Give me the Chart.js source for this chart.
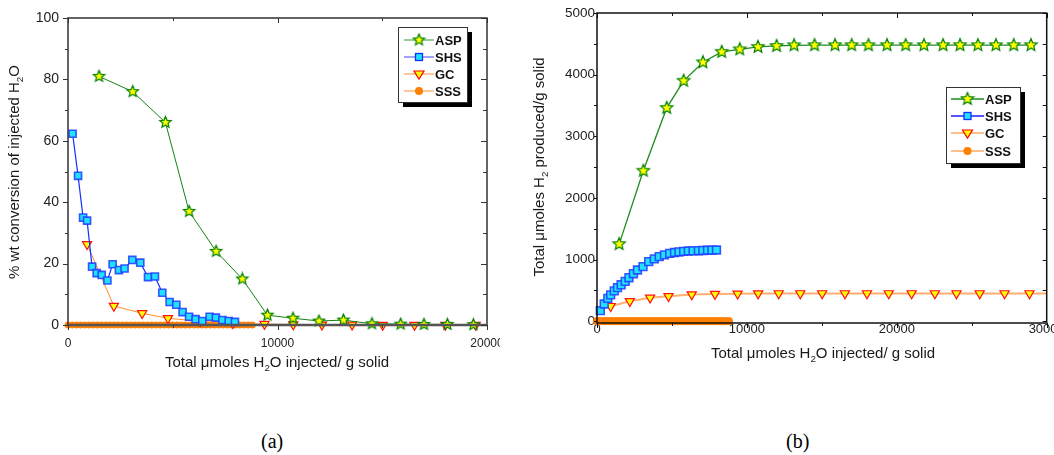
<!DOCTYPE html>
<html>
<head>
<meta charset="utf-8">
<script src="https://cdn.jsdelivr.net/npm/chart.js@4.4.0/dist/chart.umd.min.js"></script>
<style>
body { margin: 0; background: #fff; width: 1054px; height: 455px; position: relative; overflow: hidden; }
#left { position: absolute; left: 0; top: 0; }
#right { position: absolute; left: 500px; top: 0; }
.cap { position: absolute; top: 430px; font: 20px "Liberation Serif", "Times New Roman", serif; color: #000; }
</style>
</head>
<body>
<canvas id="left" width="500" height="400"></canvas>
<canvas id="right" width="554" height="400"></canvas>
<div class="cap" style="left:261px">(a)</div>
<div class="cap" style="left:786px">(b)</div>
<script>
// ---- data ----
const aspX = [1480, 3090, 4650, 5780, 7070, 8320, 9520, 10740, 11980, 13150, 14510, 15880, 16990, 18110, 19350, 20590, 21810, 23090, 24220, 25410, 26610, 27800, 28950];
const aspConv = [81, 76, 66, 37, 24, 15, 3.2, 2.2, 1.3, 1.6, 0.4, 0.3, 0.2, 0.2, 0.1, 0.1, 0, 0, 0, 0, 0, 0, 0];
const aspTotal = [1250, 2440, 3460, 3900, 4200, 4370, 4410, 4450, 4465, 4476, 4478, 4478, 4478, 4478, 4478, 4478, 4478, 4478, 4478, 4478, 4478, 4478, 4478];

const shsX = [220, 480, 720, 910, 1150, 1370, 1610, 1880, 2130, 2430, 2700, 3070, 3450, 3820, 4150, 4500, 4850, 5170, 5470, 5780, 6090, 6410, 6760, 7060, 7370, 7670, 7970];
const shsConv = [62.3, 48.6, 35, 34, 19, 16.9, 16.3, 14.5, 19.8, 17.9, 18.4, 21.2, 20.3, 15.6, 15.8, 10.5, 7.5, 6.6, 4.2, 2.7, 1.9, 1.3, 2.7, 2.4, 1.6, 1.3, 1.0];
const shsTotal = [170, 278, 370, 427, 492, 543, 590, 645, 705, 770, 830, 885, 965, 1010, 1046, 1076, 1099, 1114, 1123, 1132, 1138, 1140, 1143, 1147, 1150, 1153, 1155];

const gcX = [910, 2190, 3540, 4770, 6320, 7870, 9380, 10750, 12120, 13560, 15020, 16540, 18010, 19460, 20990, 22540, 23980, 25530, 27190, 28850, 30500];
const gcConv = [26.3, 6.2, 3.8, 2.2, 1.2, 0.6, 0.3, 0.2, 0.1, 0.1, 0, 0, 0, 0, 0, 0, 0, 0, 0, 0, 0];
const gcTotal = [243, 324, 380, 405, 433, 440, 445, 448, 450, 450, 450, 450, 450, 450, 450, 450, 450, 450, 450, 450, 450];

const sssX = [0, 200, 400, 600, 800, 1000, 1200, 1400, 1600, 1800, 2000, 2200, 2400, 2600, 2800, 3000, 3200, 3400, 3600, 3800, 4000, 4200, 4400, 4600, 4800, 5000, 5200, 5400, 5600, 5800, 6000, 6200, 6400, 6600, 6800, 7000, 7200, 7400, 7600, 7800, 8000, 8200, 8400, 8600, 8800];
const sssConv = [0, 0, 0, 0, 0, 0, 0, 0, 0, 0, 0, 0, 0, 0, 0, 0, 0, 0, 0, 0, 0, 0, 0, 0, 0, 0, 0, 0, 0, 0, 0, 0, 0, 0, 0, 0, 0, 0, 0, 0, 0, 0, 0, 0, 0];
const sssTotal = [0, 0, 0, 0, 0, 0, 0, 0, 0, 0, 0, 0, 0, 0, 0, 0, 0, 0, 0, 0, 0, 0, 0, 0, 0, 0, 0, 0, 0, 0, 0, 0, 0, 0, 0, 0, 0, 0, 0, 0, 0, 0, 0, 0, 0];

const seriesNames = ['ASP', 'SHS', 'GC', 'SSS'];

const FONT = '"Liberation Sans", Arial, sans-serif';
const xTitle = [['Total \u03bcmoles H', 0], ['2', 1], ['O injected/ g solid', 0]];
const leftYTitle = [['% wt conversion of injected H', 0], ['2', 1], ['O', 0]];
const rightYTitle = [['Total \u03bcmoles H', 0], ['2', 1], [' produced/g solid', 0]];

function pts(xs, ys) {
    return xs.map((x, i) => ({x: x, y: ys[i]}));
}

// filled five point star used as marker
function makeStar(r) {
    const c = document.createElement('canvas');
    const s = Math.ceil(r * 2 + 3);
    c.width = s; c.height = s;
    const g = c.getContext('2d');
    g.beginPath();
    for (let i = 0; i < 10; i++) {
        const rr = i % 2 ? r * 0.45 : r;
        const a = -Math.PI / 2 + i * Math.PI / 5;
        g.lineTo(s / 2 + rr * Math.cos(a), s / 2 + rr * Math.sin(a));
    }
    g.closePath();
    g.fillStyle = '#ffff00';
    g.fill();
    g.strokeStyle = '#008000';
    g.lineWidth = 1.2;
    g.stroke();
    return c;
}
const starL = makeStar(6);
const starR = makeStar(6.5);

function drawRich(ctx, parts, cx, cy, size, angle) {
    ctx.save();
    ctx.translate(cx, cy);
    ctx.rotate(angle);
    let w = 0;
    parts.forEach(p => {
        ctx.font = (p[1] ? size * 0.65 : size) + 'px ' + FONT;
        w += ctx.measureText(p[0]).width;
    });
    let x = -w / 2;
    ctx.textBaseline = 'middle';
    ctx.textAlign = 'left';
    ctx.fillStyle = '#1a1a1a';
    parts.forEach(p => {
        ctx.font = (p[1] ? size * 0.65 : size) + 'px ' + FONT;
        ctx.fillText(p[0], x, p[1] ? size * 0.38 : 0);
        x += ctx.measureText(p[0]).width;
    });
    ctx.restore();
}

function legendMarker(ctx, kind, x, y, star) {
    ctx.save();
    if (kind === 'ASP') {
        ctx.drawImage(star, x - star.width / 2, y - star.height / 2);
    } else if (kind === 'SHS') {
        ctx.fillStyle = '#22e0ff'; ctx.strokeStyle = '#1030ff'; ctx.lineWidth = 1.3;
        ctx.fillRect(x - 3.5, y - 3.5, 7, 7); ctx.strokeRect(x - 3.5, y - 3.5, 7, 7);
    } else if (kind === 'GC') {
        ctx.beginPath();
        ctx.moveTo(x - 5, y - 3); ctx.lineTo(x + 5, y - 3); ctx.lineTo(x, y + 5); ctx.closePath();
        ctx.fillStyle = '#ffff00'; ctx.fill();
        ctx.strokeStyle = '#ff0000'; ctx.lineWidth = 1.2; ctx.stroke();
    } else {
        ctx.beginPath(); ctx.arc(x, y, 4, 0, Math.PI * 2);
        ctx.fillStyle = '#ff7f00'; ctx.fill();
    }
    ctx.restore();
}

function boxPlugin(o) {
    return {
        id: 'box',
        afterDraw(chart) {
            const ctx = chart.ctx;
            const {left, right, top, bottom} = chart.chartArea;
            const xs = chart.scales.x, ys = chart.scales.y;
            ctx.save();
            // frame
            ctx.strokeStyle = o.frameColor;
            ctx.lineWidth = 1.5;
            ctx.strokeRect(left, top, right - left, bottom - top);
            if (o.bottomWidth) {
                ctx.lineWidth = o.bottomWidth;
                ctx.strokeStyle = '#555';
                ctx.beginPath(); ctx.moveTo(left, bottom); ctx.lineTo(right, bottom); ctx.stroke();
            }
            // ticks: outward on left/bottom, inward on top/right
            ctx.strokeStyle = o.frameColor;
            ctx.lineWidth = 1;
            ctx.beginPath();
            const tx = (vals, len) => vals.forEach(v => {
                const p = Math.round(xs.getPixelForValue(v)) + 0.5;
                ctx.moveTo(p, bottom); ctx.lineTo(p, bottom + len);
                ctx.moveTo(p, top); ctx.lineTo(p, top + len);
            });
            const ty = (vals, len) => vals.forEach(v => {
                const p = Math.round(ys.getPixelForValue(v)) + 0.5;
                ctx.moveTo(left, p); ctx.lineTo(left - len, p);
                ctx.moveTo(right, p); ctx.lineTo(right - len - 1, p);
            });
            tx(o.xMajor, 5); tx(o.xMinor, 3);
            ty(o.yMajor, o.yTick); ty(o.yMinor, 3);
            ctx.stroke();
            // axis titles
            drawRich(ctx, xTitle, o.xTitle[0], o.xTitle[1], 15, 0);
            drawRich(ctx, o.yTitleParts, o.yTitle[0], o.yTitle[1], 15, -Math.PI / 2);
            // legend
            const L = o.legend;
            ctx.fillStyle = '#000';
            ctx.fillRect(L.x + 5, L.y + 5, L.w, L.h);
            ctx.fillStyle = '#fff';
            ctx.fillRect(L.x, L.y, L.w, L.h);
            ctx.strokeStyle = '#333';
            ctx.lineWidth = 1;
            ctx.strokeRect(L.x + 0.5, L.y + 0.5, L.w, L.h);
            seriesNames.forEach((name, i) => {
                const ry = L.y + L.rows[i];
                ctx.strokeStyle = L.colors[i];
                ctx.lineWidth = 1.3;
                ctx.beginPath(); ctx.moveTo(L.x + L.l0, ry); ctx.lineTo(L.x + L.l1, ry); ctx.stroke();
                legendMarker(ctx, name, L.x + (L.l0 + L.l1) / 2, ry, o.star);
                ctx.fillStyle = '#111';
                ctx.font = 'bold 13px ' + FONT;
                ctx.textBaseline = 'middle';
                ctx.textAlign = 'left';
                ctx.fillText(name, L.x + L.l1 + 1, ry + 1);
            });
            ctx.restore();
        }
    };
}

function makeDatasets(conv, star, sq, big) {
    return [
        {
            label: 'ASP', data: pts(aspX, conv[0]),
            borderColor: big ? 'rgb(30,140,30)' : 'rgb(20,130,20)', borderWidth: big ? 1.3 : 1,
            pointStyle: star, pointRadius: 6,
            clip: {left: 8, top: 8, right: 0, bottom: 8}
        },
        {
            label: 'SHS', data: pts(shsX, conv[1]),
            borderColor: '#1030ff', borderWidth: 1.2,
            pointStyle: 'rect', pointRadius: sq,
            pointBackgroundColor: '#22e0ff', pointBorderColor: 'rgba(30,60,255,0.85)', pointBorderWidth: 1.6,
            clip: {left: 8, top: 8, right: 0, bottom: 8}
        },
        {
            label: 'GC', data: pts(gcX, conv[2]),
            borderColor: big ? 'rgb(255,175,110)' : 'rgb(255,140,40)', borderWidth: big ? 2 : 1,
            pointStyle: 'triangle', rotation: 180, pointRadius: 5.3,
            pointBackgroundColor: '#ffff00', pointBorderColor: '#ff1010', pointBorderWidth: 1.2,
            clip: {left: 8, top: 8, right: 0, bottom: 8}
        },
        {
            label: 'SSS', data: pts(sssX, conv[3]),
            borderColor: 'rgb(255,150,60)', borderWidth: 1,
            pointStyle: 'circle', pointRadius: big ? 3.8 : 3.2,
            pointBackgroundColor: '#ff7f00', pointBorderColor: '#ff7f00', pointBorderWidth: 0.5,
            clip: {left: 8, top: 8, right: 0, bottom: 8}
        }
    ];
}

const plain = (v) => String(v);

// ---- (a) conversion ----
new Chart(document.getElementById('left'), {
    type: 'line',
    data: {datasets: makeDatasets([aspConv, shsConv, gcConv, sssConv], starL, 5, false)},
    options: {
        responsive: false,
        animation: false,
        layout: {padding: {left: 0, right: 13, top: 18, bottom: 0}},
        elements: {line: {tension: 0}},
        plugins: {legend: {display: false}, tooltip: {enabled: false}},
        scales: {
            x: {
                type: 'linear', min: 0, max: 20000,
                grid: {display: false, drawTicks: false}, border: {display: false},
                ticks: {stepSize: 10000, padding: 11, color: '#222', font: {family: FONT, size: 12}, maxRotation: 0, callback: plain},
                afterFit: (s) => { s.height = 75; s.paddingLeft = 0; s.paddingRight = 0; }
            },
            y: {
                min: 0, max: 100,
                grid: {display: false, drawTicks: false}, border: {display: false},
                ticks: {stepSize: 20, padding: 9, color: '#222', font: {family: FONT, size: 14}, callback: plain},
                afterFit: (s) => { s.width = 68; s.paddingTop = 0; s.paddingBottom = 0; }
            }
        }
    },
    plugins: [boxPlugin({
        frameColor: '#333', bottomWidth: 2.5, yTick: 5, star: starL,
        xMajor: [0, 10000, 20000], xMinor: [5000, 15000],
        yMajor: [0, 20, 40, 60, 80, 100], yMinor: [10, 30, 50, 70, 90],
        xTitle: [277, 363], yTitle: [15, 172], yTitleParts: leftYTitle,
        legend: {x: 398, y: 27, w: 69, h: 75, rows: [13, 30, 47, 64], l0: 6, l1: 36,
                 colors: ['rgb(90,180,90)', 'rgb(110,110,255)', 'rgb(255,170,100)', 'rgb(255,170,100)']}
    })]
});

// ---- (b) cumulative hydrogen ----
new Chart(document.getElementById('right'), {
    type: 'line',
    data: {datasets: makeDatasets([aspTotal, shsTotal, gcTotal, sssTotal], starR, 5.5, true)},
    options: {
        responsive: false,
        animation: false,
        layout: {padding: {left: 0, right: 4, top: 13, bottom: 0}},
        elements: {line: {tension: 0}},
        plugins: {legend: {display: false}, tooltip: {enabled: false}},
        scales: {
            x: {
                type: 'linear', min: 0, max: 30000,
                grid: {display: false, drawTicks: false}, border: {display: false},
                ticks: {stepSize: 10000, padding: -1, color: '#222', font: {family: FONT, size: 13}, maxRotation: 0, callback: plain},
                afterFit: (s) => { s.height = 77; s.paddingLeft = 0; s.paddingRight = 0; }
            },
            y: {
                min: -30, max: 5000,
                afterBuildTicks: (s) => { s.ticks = [0, 1000, 2000, 3000, 4000, 5000].map(v => ({value: v})); },
                grid: {display: false, drawTicks: false}, border: {display: false},
                ticks: {padding: 2, color: '#222', font: {family: FONT, size: 13.5}, callback: plain},
                afterFit: (s) => { s.width = 97; s.paddingTop = 0; s.paddingBottom = 0; }
            }
        }
    },
    plugins: [boxPlugin({
        frameColor: '#111', yTick: 3, star: starR,
        xMajor: [0, 10000, 20000, 30000], xMinor: [5000, 15000, 25000],
        yMajor: [0, 1000, 2000, 3000, 4000, 5000], yMinor: [500, 1500, 2500, 3500, 4500],
        xTitle: [323, 354], yTitle: [40, 167], yTitleParts: rightYTitle,
        legend: {x: 446, y: 87, w: 74, h: 76, rows: [12, 29, 46, 64], l0: 5, l1: 38,
                 colors: ['rgb(30,140,30)', 'rgb(30,30,255)', 'rgb(255,170,100)', 'rgb(255,170,100)']}
    })]
});
</script>
</body>
</html>
